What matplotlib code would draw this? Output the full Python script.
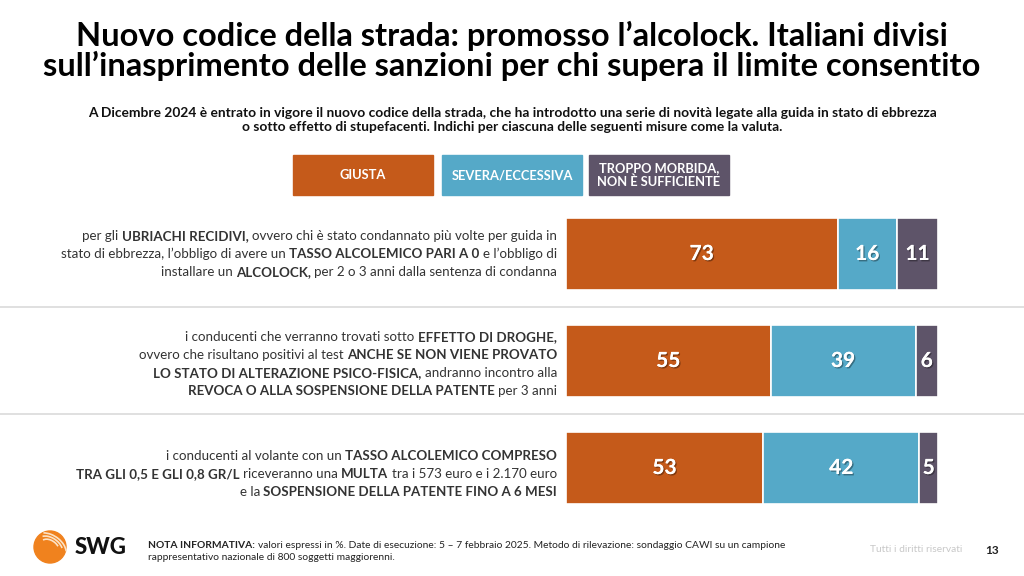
import numpy as np
import matplotlib
matplotlib.use("Agg")
import matplotlib.pyplot as plt
import matplotlib.patheffects as pe
from matplotlib.patches import Rectangle, Circle, Arc

plt.rcParams['font.family'] = ['Lato', 'DejaVu Sans']

# data
categories = ['GIUSTA', 'SEVERA/ECCESSIVA', 'TROPPO MORBIDA,\nNON È SUFFICIENTE']
colors = ['#C55A1A', '#55A9C8', '#5E5469']
giusta = [73, 55, 53]
severa = [16, 39, 42]
morbida = [11, 6, 5]

# labels, **...** marks bold parts
item_labels = [
    ["per gli **UBRIACHI RECIDIVI,** ovvero chi è stato condannato più volte per guida in",
     "stato di ebbrezza, l’obbligo di avere un **TASSO ALCOLEMICO PARI A 0** e l’obbligo di",
     "installare un **ALCOLOCK,** per 2 o 3 anni dalla sentenza di condanna"],
    ["i conducenti che verranno trovati sotto **EFFETTO DI DROGHE,**",
     "ovvero che risultano positivi al test **ANCHE SE NON VIENE PROVATO**",
     "**LO STATO DI ALTERAZIONE PSICO-FISICA,** andranno incontro alla",
     "**REVOCA O ALLA SOSPENSIONE DELLA PATENTE** per 3 anni"],
    ["i conducenti al volante con un **TASSO ALCOLEMICO COMPRESO**",
     "**TRA GLI 0,5 E GLI 0,8 GR/L** riceveranno una **MULTA** tra i 573 euro e i 2.170 euro",
     "e la **SOSPENSIONE DELLA PATENTE FINO A 6 MESI**"],
]

title = ("Nuovo codice della strada: promosso l’alcolock. Italiani divisi\n"
         "sull’inasprimento delle sanzioni per chi supera il limite consentito")
subtitle = ("A Dicembre 2024 è entrato in vigore il nuovo codice della strada, che ha introdotto una serie di novità legate alla guida in stato di ebbrezza\n"
            "o sotto effetto di stupefacenti. Indichi per ciascuna delle seguenti misure come la valuta.")
note_1 = "valori espressi in %. Date di esecuzione: 5 – 7 febbraio 2025. Metodo di rilevazione: sondaggio CAWI su un campione"
note_2 = "rappresentativo nazionale di 800 soggetti maggiorenni."

W, H = 1024, 576
LBL = 9.6
fig = plt.figure(figsize=(W / 100, H / 100), dpi=100)
fig.patch.set_facecolor('white')

# overlay axes in pixel units
ov = fig.add_axes([0, 0, 1, 1])
ov.set_xlim(0, W)
ov.set_ylim(H, 0)
ov.axis('off')

ov.text(512, 51, title, ha='center', va='center', fontsize=23.5, fontweight='bold',
        color='black', linespacing=1.0)
ov.text(512, 120, subtitle, ha='center', va='center', fontsize=9.9, fontweight='bold',
        color='#111111', linespacing=1.25)

# legend boxes
leg_x = [293, 442, 589]
for x0, c, name in zip(leg_x, colors, categories):
    ov.add_patch(Rectangle((x0, 155), 140, 40, color=c, zorder=2))
    ov.text(x0 + 70, 175, name, ha='center', va='center', color='white',
            fontsize=9.3, fontweight='bold', linespacing=1.1, zorder=3)

# separators
for ys in [307, 414]:
    ov.plot([0, W], [ys, ys], color='#DDDDDD', lw=1.3, zorder=1)

# bars
bx = fig.add_axes([566 / W, 1 - 521.5 / H, 372 / W, 321 / H])
ypos = np.arange(len(giusta))
left = np.zeros(len(giusta))
shadow = [pe.withSimplePatchShadow(offset=(1, -1), shadow_rgbFace='black', alpha=0.35), pe.Normal()]
for vals, c in zip([giusta, severa, morbida], colors):
    bx.barh(ypos, vals, left=left, height=0.67, color=c, edgecolor='white', linewidth=1.2)
    for y, l, v in zip(ypos, left, vals):
        bx.text(l + v / 2, y, str(v), ha='center', va='center', color='white',
                fontsize=15, fontweight='bold', path_effects=shadow)
    left = left + np.array(vals)
bx.set_xlim(0, 100)
bx.set_ylim(2.5, -0.5)
bx.axis('off')

# rich text labels, right aligned
renderer = fig.canvas.get_renderer()


def text_w(s, bold, size=LBL):
    t = ov.text(0, 0, s, fontsize=size, fontweight='bold' if bold else 'normal')
    w = t.get_window_extent(renderer).width
    t.remove()
    return w


def adv(s, bold, size=LBL):
    # advance width, side bearings cancel out
    return text_w("x" + s + "x", bold, size) - text_w("xx", bold, size)


def lsb(s, bold, size=LBL):
    # left side bearing of first glyph (relative to 'x')
    return -(text_w(s + "x", bold, size) - adv(s, bold, size) - text_w("x", bold, size))


space_w = adv(" ", False)


def rich_line(x_right, y, line):
    parts = line.split("**")
    segs = []
    for i, p in enumerate(parts):
        if p.strip():
            segs.append((p.strip(), i % 2 == 1, p[:1] == " ", p[-1:] == " "))
    widths = [adv(s, b) for s, b, _, _ in segs]
    gaps = []
    for k in range(len(segs) - 1):
        gaps.append(space_w if (segs[k][3] or segs[k + 1][2]) else 0)
    total = sum(widths) + sum(gaps)
    x = x_right - total
    for k, ((s, b, _, _), wd) in enumerate(zip(segs, widths)):
        ov.text(x + lsb(s, b), y, s, ha='left', va='center', fontsize=LBL,
                fontweight='bold' if b else 'normal', color='#333333')
        x += wd + (gaps[k] if k < len(gaps) else 0)


centers = [254, 364, 474]
for yc, lines in zip(centers, item_labels):
    n = len(lines)
    for i, line in enumerate(lines):
        rich_line(557, yc + (i - (n - 1) / 2) * 18.2, line)

# footer logo
ov.add_patch(Circle((50, 547), 16, color='#F0821E', zorder=3))
for r, a1, a2 in [(14, 200, 330), (10, 190, 320), (18, 210, 340)]:
    ov.add_patch(Arc((50, 547), 2 * r, 1.3 * r, angle=35, theta1=a1, theta2=a2,
                     color='#FCE3C7', lw=1.2, zorder=4))
ov.text(75, 548, "SWG", ha='left', va='center', fontsize=16, fontweight='black', color='#111111')

FN = 7.4
ov.text(148, 545, "NOTA INFORMATIVA:", ha='left', va='center', fontsize=FN, fontweight='bold', color='#222222')
nw = text_w("NOTA INFORMATIVA:", True, FN)
ov.text(148 + nw + 3, 545, note_1, ha='left', va='center', fontsize=FN, color='#222222')
ov.text(148, 558, note_2, ha='left', va='center', fontsize=FN, color='#222222')
ov.text(962, 550, "Tutti i diritti riservati", ha='right', va='center', fontsize=7.4, color='#C8C8C8')
ov.text(992, 550, "13", ha='center', va='center', fontsize=8.5, fontweight='bold', color='#222222')

fig.savefig("out.png", dpi=100)
